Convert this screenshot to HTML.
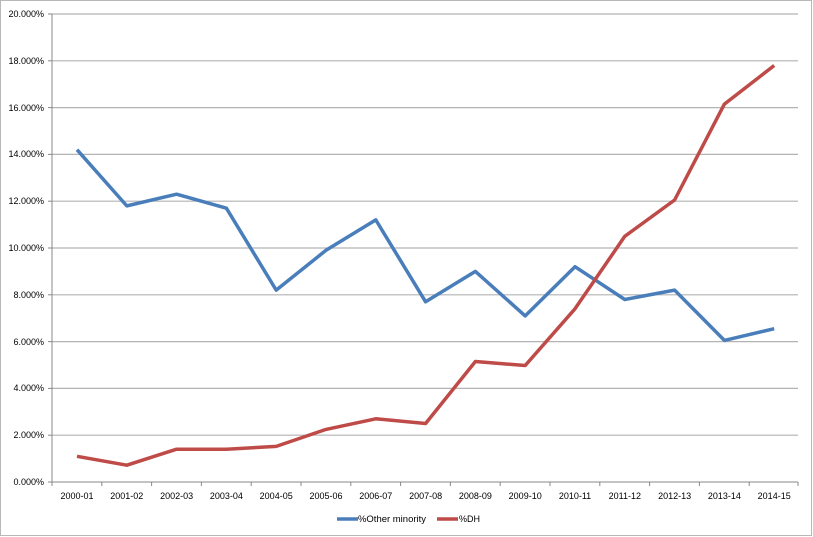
<!DOCTYPE html>
<html><head><style>body{margin:0;background:#fff}svg{display:block}text{font-family:"Liberation Sans",sans-serif;font-size:9px;fill:#000}</style></head><body>
<svg width="813" height="537" xmlns="http://www.w3.org/2000/svg">
<rect x="0.5" y="0.5" width="811" height="535" fill="#fff" stroke="#b8b8b8"/>
<g stroke="#b3b3b3" stroke-width="1.2">
<line x1="52" x2="798" y1="14" y2="14"/><line x1="52" x2="798" y1="60.8" y2="60.8"/><line x1="52" x2="798" y1="107.6" y2="107.6"/><line x1="52" x2="798" y1="154.4" y2="154.4"/><line x1="52" x2="798" y1="201.2" y2="201.2"/><line x1="52" x2="798" y1="248" y2="248"/><line x1="52" x2="798" y1="294.8" y2="294.8"/><line x1="52" x2="798" y1="341.6" y2="341.6"/><line x1="52" x2="798" y1="388.4" y2="388.4"/><line x1="52" x2="798" y1="435.2" y2="435.2"/>
</g>
<g stroke="#888" stroke-width="1">
<line x1="52" x2="52" y1="14" y2="482"/><line x1="52" x2="798" y1="482" y2="482"/>
<line x1="48" x2="52" y1="482" y2="482"/><line x1="48" x2="52" y1="435.2" y2="435.2"/><line x1="48" x2="52" y1="388.4" y2="388.4"/><line x1="48" x2="52" y1="341.6" y2="341.6"/><line x1="48" x2="52" y1="294.8" y2="294.8"/><line x1="48" x2="52" y1="248" y2="248"/><line x1="48" x2="52" y1="201.2" y2="201.2"/><line x1="48" x2="52" y1="154.4" y2="154.4"/><line x1="48" x2="52" y1="107.6" y2="107.6"/><line x1="48" x2="52" y1="60.8" y2="60.8"/><line x1="48" x2="52" y1="14" y2="14"/>
<path d="M52 482v4M101.8 482v4M151.6 482v4M201.4 482v4M251.2 482v4M301 482v4M350.8 482v4M400.6 482v4M450.4 482v4M500.2 482v4M550 482v4M599.8 482v4M649.6 482v4M699.4 482v4M749.2 482v4M798 482v4"/>
</g>
<g text-anchor="end">
<text x="44" y="485">0.000%</text><text x="44" y="438">2.000%</text><text x="44" y="391">4.000%</text><text x="44" y="345">6.000%</text><text x="44" y="298">8.000%</text><text x="44" y="251">10.000%</text><text x="44" y="204">12.000%</text><text x="44" y="157">14.000%</text><text x="44" y="111">16.000%</text><text x="44" y="64">18.000%</text><text x="44" y="17">20.000%</text>
</g>
<g text-anchor="middle">
<text x="77" y="499">2000-01</text><text x="126.8" y="499">2001-02</text><text x="176.6" y="499">2002-03</text><text x="226.4" y="499">2003-04</text><text x="276.2" y="499">2004-05</text><text x="326" y="499">2005-06</text><text x="375.8" y="499">2006-07</text><text x="425.6" y="499">2007-08</text><text x="475.4" y="499">2008-09</text><text x="525.2" y="499">2009-10</text><text x="575" y="499">2010-11</text><text x="624.8" y="499">2011-12</text><text x="674.6" y="499">2012-13</text><text x="724.4" y="499">2013-14</text><text x="774.2" y="499">2014-15</text>
</g>
<polyline fill="none" stroke="#4a7ebb" stroke-width="3.5" stroke-linejoin="round" points="77,149.7 126.8,205.9 176.6,194.2 226.4,208.2 276.2,290.1 326,250.3 375.8,219.9 425.6,301.8 475.4,271.4 525.2,315.9 575,266.7 624.8,299.5 674.6,290.1 724.4,340.4 774.2,328.7"/>
<polyline fill="none" stroke="#be4b48" stroke-width="3.5" stroke-linejoin="round" points="77,456.3 126.8,465.2 176.6,449.2 226.4,449.2 276.2,446.4 326,429.4 375.8,418.8 425.6,423.5 475.4,361.5 525.2,365.5 575,308.8 624.8,236.3 674.6,200 724.4,104.1 774.2,65.5"/>
<line x1="337" x2="358" y1="519" y2="519" stroke="#4a7ebb" stroke-width="3.5"/>
<text x="358" y="522" textLength="68" lengthAdjust="spacingAndGlyphs">%Other minority</text>
<line x1="437" x2="458" y1="519" y2="519" stroke="#be4b48" stroke-width="3.5"/>
<text x="459" y="522">%DH</text>
</svg>
</body></html>
